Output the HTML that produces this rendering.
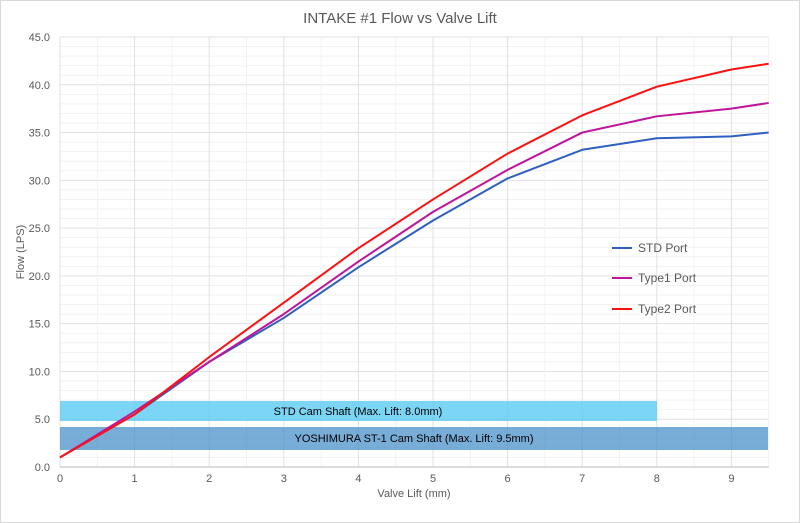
<!DOCTYPE html>
<html><head><meta charset="utf-8"><style>
html,body{margin:0;padding:0;background:#fff}
svg{display:block;font-family:"Liberation Sans",Arial,sans-serif}
</style></head><body>
<svg width="800" height="523" viewBox="0 0 800 523" xmlns="http://www.w3.org/2000/svg">
<rect x="0.5" y="0.5" width="799" height="522" fill="#fff" stroke="#d9d9d9"/>
<g id="grid"></g>
<rect x="60" y="401" width="597" height="20" fill="#5ccbf2" opacity="0.8"/>
<rect x="60" y="427" width="708" height="23" fill="#3f8ac6" opacity="0.7"/>
<text x="358" y="415" font-family="'Liberation Sans',sans-serif" font-size="11" text-anchor="middle" fill="#000">STD Cam Shaft (Max. Lift: 8.0mm)</text>
<text x="414" y="442" font-size="11" text-anchor="middle" fill="#000">YOSHIMURA ST-1 Cam Shaft (Max. Lift: 9.5mm)</text>
<g id="series" fill="none" stroke-width="2" stroke-linejoin="round"></g>
<text x="400" y="23" font-size="15" text-anchor="middle" fill="#595959">INTAKE #1 Flow vs Valve Lift</text>
<text x="414" y="497" font-size="11" text-anchor="middle" fill="#595959">Valve Lift (mm)</text>
<text transform="translate(24,252) rotate(-90)" font-size="11" text-anchor="middle" fill="#595959">Flow (LPS)</text>
<g id="ticks" font-size="11" fill="#595959"></g>
<line x1="612" y1="248" x2="632" y2="248" stroke="#2f5fbf" stroke-width="2"/>
<text x="638" y="252" font-size="12" fill="#595959">STD Port</text>
<line x1="612" y1="278" x2="632" y2="278" stroke="#c0149a" stroke-width="2"/>
<text x="638" y="282" font-size="12" fill="#595959">Type1 Port</text>
<line x1="612" y1="309" x2="632" y2="309" stroke="#ff1010" stroke-width="2"/>
<text x="638" y="313" font-size="12" fill="#595959">Type2 Port</text>
</svg>
<script>
var NS="http://www.w3.org/2000/svg";
function X(v){return 60+v*74.6}
function Y(v){return 467-v*430/45}
function el(p,t,a,txt){var e=document.createElementNS(NS,t);for(var k in a)e.setAttribute(k,a[k]);if(txt!=null)e.textContent=txt;document.getElementById(p).appendChild(e);return e}
for(var i=0;i<=45;i++){el("grid","line",{x1:60,x2:768.7,y1:Y(i),y2:Y(i),stroke:i%5?"#f2f2f2":"#e0e0e0","stroke-width":1})}
for(var j=0;j<=19;j++){var v=j/2;el("grid","line",{x1:X(v),x2:X(v),y1:37,y2:467,stroke:j%2?"#f2f2f2":"#e0e0e0","stroke-width":1})}
el("grid","line",{x1:60,x2:768.7,y1:467,y2:467,stroke:"#d0d0d0","stroke-width":1.5});
for(var i=0;i<=45;i+=5)el("ticks","text",{x:50,y:Y(i)+4,"text-anchor":"end"},i.toFixed(1));
for(var j=0;j<=9;j++)el("ticks","text",{x:X(j),y:482,"text-anchor":"middle"},j);
var xs=[0,1,2,3,4,5,6,7,8,9,9.5];
var S=[["#2f5fbf",[1.0,5.5,11,15.6,20.9,25.8,30.2,33.2,34.4,34.6,35.0]],
["#c0149a",[1.0,5.8,11.0,16.0,21.5,26.7,31.1,35.0,36.7,37.5,38.1]],
["#ff1010",[1.0,5.5,11.5,17.2,22.9,28.0,32.8,36.8,39.8,41.6,42.2]]];
S.forEach(function(s){el("series","polyline",{stroke:s[0],points:xs.map(function(x,i){return X(x)+","+Y(s[1][i])}).join(" ")})});
</script>
</body></html>
